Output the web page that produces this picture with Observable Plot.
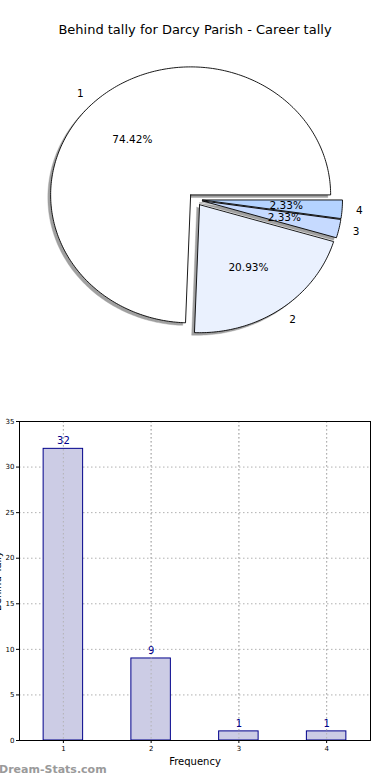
<!DOCTYPE html>
<html>
<head>
<meta charset="utf-8">
<script src="https://cdn.jsdelivr.net/npm/d3@7"></script>
<script src="https://cdn.jsdelivr.net/npm/@observablehq/plot@0.6"></script>
<style>
  html, body { margin: 0; padding: 0; background: #fff; }
  body { width: 390px; height: 780px; position: relative; overflow: hidden; font-family: "DejaVu Sans", sans-serif; }
  #title { position: absolute; top: 22px; left: 0; width: 390px; text-align: center; font-size: 13px; color: #000; }
  #pie { position: absolute; top: 60px; left: 0; }
  #bar { position: absolute; top: 400px; left: 0; }
  #wm { position: absolute; top: 763px; left: -1px; font-size: 11px; font-weight: bold; color: #9a9a9a; }
  svg { overflow: visible; }
</style>
</head>
<body>
<div id="title">Behind tally for Darcy Parish - Career tally</div>
<div id="pie"></div>
<div id="bar"></div>
<div id="wm">Dream-Stats.com</div>
<script>
// ---- data ----
const categories = ["1", "2", "3", "4"];
const counts = [32, 9, 1, 1];
const sliceColors = ["#ffffff", "#eaf1fe", "#c6daff", "#b4d3ff"];
const explode = [0.05, 0.05, 0.05, 0.05];
const yTicks = [0, 5, 10, 15, 20, 25, 30, 35];

// ---- pie geometry (from data) ----
const total = d3.sum(counts);
const slices = [];
let acc = 0;
counts.forEach((v, i) => {
  const a0 = acc / total * 2 * Math.PI;
  acc += v;
  const a1 = acc / total * 2 * Math.PI;
  const mid = (a0 + a1) / 2;
  const cx = explode[i] * Math.cos(mid), cy = explode[i] * Math.sin(mid);
  slices.push({cat: categories[i], value: v, a0, a1, mid, cx, cy, color: sliceColors[i],
    pct: (v / total * 100).toFixed(2) + "%"});
});
function polygon(s, dx, dy) {
  const pts = [{cat: s.cat, x: s.cx + dx, y: s.cy + dy, color: s.color}];
  const n = Math.max(4, Math.ceil((s.a1 - s.a0) / (Math.PI / 180)));
  for (let k = 0; k <= n; k++) {
    const a = s.a0 + (s.a1 - s.a0) * k / n;
    pts.push({cat: s.cat, x: s.cx + dx + Math.cos(a), y: s.cy + dy + Math.sin(a), color: s.color});
  }
  pts.push({cat: s.cat, x: s.cx + dx, y: s.cy + dy, color: s.color});
  return pts;
}
const slicePts = slices.flatMap(s => polygon(s, 0, 0));
const shadowPts = slices.flatMap(s => polygon(s, -0.02, -0.02));
const pctLabels = slices.map(s => ({x: s.cx + 0.6 * Math.cos(s.mid), y: s.cy + 0.6 * Math.sin(s.mid), t: s.pct}));
const catLabels = slices.map(s => {
  const x = s.cx + 1.1 * Math.cos(s.mid);
  return {x, y: s.cy + 1.1 * Math.sin(s.mid), t: s.cat, anchor: x > 0 ? "start" : "end"};
});

const W = 390, H = 340;
const rx = 140, ry = 128, px = 195, py = 139;
const pie = Plot.plot({
  width: W, height: H,
  margin: 0,
  x: {domain: [-px / rx, (W - px) / rx], axis: null},
  y: {domain: [-(H - py) / ry, py / ry], axis: null},
  color: {type: "identity"},
  style: {fontFamily: "DejaVu Sans, sans-serif", fontSize: "10px", background: "transparent"},
  marks: [
    Plot.line(shadowPts, {x: "x", y: "y", z: "cat", fill: "#a0a0a0", stroke: "#a0a0a0", strokeWidth: 0.4}),
    Plot.line(slicePts, {x: "x", y: "y", z: "cat", fill: "color", stroke: "#000", strokeWidth: 0.9, strokeLinejoin: "miter"}),
    Plot.text(pctLabels, {x: "x", y: "y", text: "t", fill: "#000", fontSize: 10.5}),
    Plot.text(catLabels.filter(d => d.anchor === "start"), {x: "x", y: "y", text: "t", textAnchor: "start", fill: "#000", fontSize: 10.5}),
    Plot.text(catLabels.filter(d => d.anchor === "end"), {x: "x", y: "y", text: "t", textAnchor: "end", fill: "#000", fontSize: 10.5})
  ]
});
document.getElementById("pie").appendChild(pie);

// ---- bar chart ----
const barData = categories.map((c, i) => ({x: +c, y: counts[i]}));
const xTicks = categories.map(Number);
const bar = Plot.plot({
  width: 390, height: 370,
  marginLeft: 19, marginRight: 20, marginTop: 21, marginBottom: 30,
  x: {domain: [0.5, 4.5], label: null},
  y: {domain: [0, 35], label: null},
  style: {fontFamily: "DejaVu Sans, sans-serif", fontSize: "7px", background: "transparent"},
  marks: [
    Plot.gridX(xTicks, {stroke: "#b0b0b0", strokeOpacity: 1, strokeDasharray: "1.5,2.5"}),
    Plot.gridY(yTicks, {stroke: "#b0b0b0", strokeOpacity: 1, strokeDasharray: "1.5,2.5"}),
    Plot.rectY(barData, {x1: d => d.x - 0.225, x2: d => d.x + 0.225, y1: 0, y2: "y", fill: "#ccccE5", stroke: "#00008b", strokeWidth: 1}),
    Plot.gridX(xTicks, {stroke: "#b0b0b0", strokeOpacity: 0.9, strokeDasharray: "1.5,2.5"}),
    Plot.text(barData, {x: "x", y: "y", text: d => String(d.y), dy: -8, fill: "#00008b", fontSize: 10}),
    Plot.frame({stroke: "#000", strokeWidth: 1}),
    Plot.axisX(xTicks, {tickFormat: d => String(d), tickSize: 3, tickPadding: 3, fontSize: 7, label: "Frequency", labelAnchor: "center", labelArrow: "none", labelOffset: 24}),
    Plot.axisY(yTicks, {tickFormat: d => String(d), tickSize: 3, tickPadding: 2, fontSize: 7, label: "Behind Tally", labelAnchor: "center", labelArrow: "none", labelOffset: 26})
  ]
});
document.getElementById("bar").appendChild(bar);
bar.querySelectorAll("g[aria-label='x-axis label'] text, g[aria-label='y-axis label'] text").forEach(t => t.style.fontSize = "10px");
</script>
</body>
</html>
